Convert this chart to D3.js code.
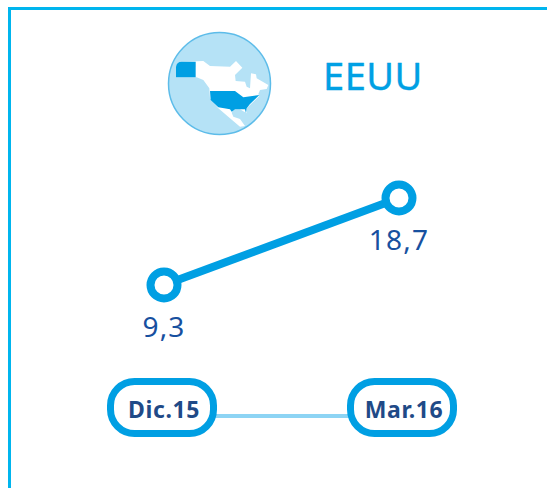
<!DOCTYPE html>
<html>
<head>
<meta charset="utf-8">
<script src="https://cdn.jsdelivr.net/npm/d3@7"></script>
<style>
  html, body { margin: 0; padding: 0; background: #fff; overflow: hidden; }
  svg { display: block; }
  text { font-family: "Noto Sans", "Open Sans", sans-serif; }
</style>
</head>
<body>
<div id="container"></div>
<script>
// <--------- data --------->
let periods = ["Dic.15", "Mar.16"];
let values = [9.3, 18.7];
let valueLabels = ["9,3", "18,7"];
let title = "EEUU";

// map shapes for the globe icon, drawn on a 3x grid
let landShape = "M78,140 Q80,125 95,125 L160,123 L180,138 L240,140 L258,123 L277,143 L255,165 L257,183 L285,185 L290,200 L300,205 L303,160 L318,163 L320,175 L355,195 L350,207 L330,210 L325,222 L328,228 L300,255 L290,265 L290,280 L270,268 L250,268 L245,278 L250,290 L270,297 L285,318 L270,320 L240,295 L205,265 L180,235 L178,205 L160,180 L140,172 L78,172 Z";
let usaShape = "M180,213 L255,213 L280,232 L328,225 L300,252 L290,265 L288,280 L285,268 L255,268 L245,275 L240,268 L205,262 L182,240 Z";
let alaskaShape = "M78,140 Q80,125 95,125 L137,125 L137,172 L78,172 Z";

// <--------- canvas --------->
let viz = d3.select("#container")
  .append("svg")
    .attr("width", 547)
    .attr("height", 488)
;

let blue = "#009fe3";
let navy = "#1f4a87";

// frame, open on the right and at the bottom
viz.append("path")
  .attr("d", "M9.5,488 V8.5 H547")
  .attr("fill", "none")
  .attr("stroke", "#00b5ee")
  .attr("stroke-width", 3)
;

// <--------- globe --------->
let globe = viz.append("g");

globe.append("circle")
  .attr("cx", 219.5)
  .attr("cy", 83.5)
  .attr("r", 51)
  .attr("fill", "#b5e2f6")
  .attr("stroke", "#5dbce9")
  .attr("stroke-width", 1.5)
;

let map = globe.append("g")
  .attr("transform", "translate(150, 20) scale(" + 1 / 3 + ")");

map.append("path").attr("d", landShape).attr("fill", "white");
map.append("path").attr("d", usaShape).attr("fill", blue);
map.append("path").attr("d", alaskaShape).attr("fill", blue);

viz.append("text")
  .attr("x", 323)
  .attr("y", 90)
  .attr("font-size", 38)
  .attr("letter-spacing", 0.5)
  .attr("fill", "#00a0e4")
  .attr("stroke", "#00a0e4")
  .attr("stroke-width", 0.4)
  .text(title)
;

// <--------- scales --------->
let x = d3.scalePoint().domain(periods).range([164, 399]);
let y = d3.scaleLinear().domain([9.3, 18.7]).range([285, 198]);
let pillX = d3.scalePoint().domain(periods).range([162, 402]);

let points = periods.map(function(p, i){
  return { period: p, value: values[i], label: valueLabels[i] };
});

// <--------- timeline at the bottom --------->
viz.append("line")
  .attr("x1", pillX(periods[0]))
  .attr("x2", pillX(periods[1]))
  .attr("y1", 416)
  .attr("y2", 416)
  .attr("stroke", "#8dd4f4")
  .attr("stroke-width", 4)
;

let pills = viz.selectAll(".pill").data(periods).enter()
  .append("g")
    .attr("class", "pill")
    .attr("transform", function(d){ return "translate(" + pillX(d) + ", 407.5)"; })
;

pills.append("rect")
  .attr("x", -51.5)
  .attr("y", -26)
  .attr("width", 103)
  .attr("height", 52)
  .attr("rx", 24)
  .attr("fill", "white")
  .attr("stroke", blue)
  .attr("stroke-width", 7)
;

pills.append("text")
  .attr("x", 2)
  .attr("y", 10)
  .attr("text-anchor", "middle")
  .attr("font-size", 23)
  .attr("font-weight", 700)
  .attr("letter-spacing", 0.6)
  .attr("fill", navy)
  .text(function(d){ return d; })
;

// <--------- line and points --------->
let line = d3.line()
  .x(function(d){ return x(d.period); })
  .y(function(d){ return y(d.value); })
;

viz.append("path")
  .datum(points)
  .attr("d", line)
  .attr("fill", "none")
  .attr("stroke", blue)
  .attr("stroke-width", 8)
;

viz.selectAll(".dot").data(points).enter()
  .append("circle")
    .attr("class", "dot")
    .attr("cx", function(d){ return x(d.period); })
    .attr("cy", function(d){ return y(d.value); })
    .attr("r", 13.5)
    .attr("fill", "white")
    .attr("stroke", blue)
    .attr("stroke-width", 8)
;

viz.selectAll(".value").data(points).enter()
  .append("text")
    .attr("class", "value")
    .attr("x", function(d){ return x(d.period); })
    .attr("y", function(d){ return y(d.value) + 52; })
    .attr("text-anchor", "middle")
    .attr("font-size", 28)
    .attr("letter-spacing", 1.2)
    .attr("fill", "#17509f")
    .text(function(d){ return d.label; })
;
</script>
</body>
</html>
